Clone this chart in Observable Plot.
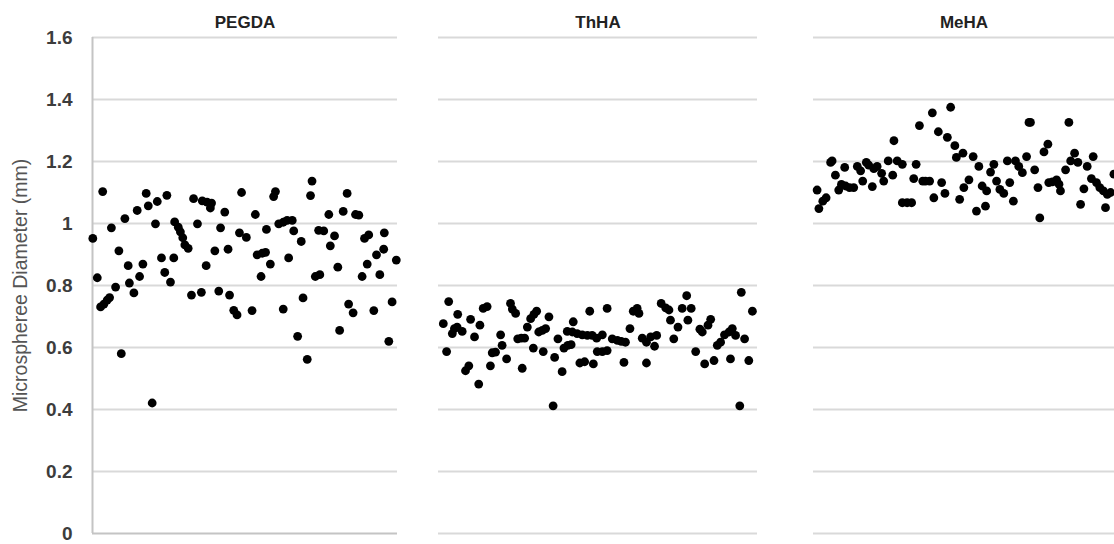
<!DOCTYPE html>
<html><head><meta charset="utf-8">
<script src="https://cdn.jsdelivr.net/npm/d3@7"></script>
<script src="https://cdn.jsdelivr.net/npm/@observablehq/plot@0.6"></script>
<style>
body{margin:0;background:#fff;font-family:"Liberation Sans",Arial,sans-serif;}
#wrap{position:relative;width:1114px;height:544px;overflow:hidden;background:#fff;}
#wrap svg{position:absolute;top:0;overflow:visible;}
</style></head><body><div id="wrap"></div>
<script>
const groups = ["PEGDA", "ThHA", "MeHA"];
const yTicks = [0, 0.2, 0.4, 0.6, 0.8, 1.0, 1.2, 1.4, 1.6];
const yLabel = "Microspheree Diameter (mm)";

const pegdaSample = [0.1,1.6,2.7,3.4,3.8,4.9,5.7,6.3,7.7,8.8,9.6,10.8,11.9,12.3,13.8,14.9,15.7,16.8,17.9,18.6,19.9,21,21.6,23,24.1,24.8,26,27.1,27.4,28.6,29.3,30.1,30.8,31.9,33,33.7,35,36.3,36.6,37.9,38.2,39.3,39.7,40.8,42.1,42.7,44.1,45.2,45.7,47.1,48.2,49,49.7,51.3,53.2,54.3,54.9,56.2,56.6,57.7,58,59.3,60.4,61,62.1,63.6,63.6,64.9,65.4,66.6,67.1,68.4,69.6,70.2,71.6,72.7,73.2,74.3,75.4,75.8,77.1,78.8,79.3,80.7,81.8,82.4,83.6,84.9,85.4,86.9,87.7,88.8,89.9,90.7,91.6,92.1,93.8,94.7,95.8,97.1,97.3,98.8,99.9,101.3];
const pegdaDiameter = [0.952,0.825,0.731,1.103,0.74,0.753,0.761,0.986,0.795,0.912,0.580,1.016,0.864,0.808,0.776,1.042,0.829,0.869,1.097,1.057,0.421,0.999,1.071,0.889,0.842,1.091,0.811,0.889,1.005,0.988,0.973,0.954,0.931,0.920,0.769,1.080,0.999,0.778,1.073,0.864,1.069,1.05,1.066,0.912,0.782,0.986,1.037,0.917,0.769,0.72,0.705,0.97,1.10,0.955,0.719,1.029,0.899,0.829,0.904,0.907,0.981,0.869,1.087,1.103,0.999,1.004,0.724,1.01,0.889,1.01,0.976,0.636,0.942,0.76,0.562,1.09,1.137,0.829,0.978,0.835,0.976,1.029,0.928,0.96,0.859,0.655,1.039,1.097,0.74,0.712,1.029,1.027,0.829,0.952,0.869,0.963,0.719,0.899,0.835,0.917,0.97,0.62,0.747,0.882];

const thhaSample = [1.6,2.7,3.4,4.6,5.3,6.2,6.4,7.9,9,10.1,10.7,12,13.4,13.8,14.9,16.2,17.3,17.9,19,20.7,21.2,22.7,24,24.6,25.7,26.4,27.6,27.9,28.7,29.6,30.7,31.6,31.8,32.7,33.4,34.6,34.9,35.7,36.8,38.2,38.7,39.8,41.2,41.8,42.9,43.1,44.2,44.6,44.9,46.2,47.1,47.9,48.7,49.6,50.4,51.2,51.6,52.7,52.9,54.6,54.6,56.2,56.2,57.9,59.6,60.9,61.8,62.3,63.8,64.9,66.2,66.8,67.9,69.3,69.3,70.7,72,72.7,74.2,75.7,76.8,77.3,78.4,79.8,81.2,82.7,83.1,84.2,85.7,87.1,87.9,88.7,89.8,90.7,91.8,92.9,94,95.3,96.8,97.3,97.9,99,100.4,100.9,102,103.4,104.6];
const thhaDiameter = [0.677,0.587,0.748,0.645,0.661,0.666,0.707,0.652,0.525,0.541,0.691,0.634,0.482,0.672,0.726,0.732,0.541,0.583,0.585,0.641,0.607,0.563,0.742,0.724,0.71,0.628,0.63,0.533,0.63,0.666,0.693,0.598,0.707,0.717,0.65,0.655,0.587,0.661,0.699,0.412,0.568,0.628,0.522,0.598,0.652,0.607,0.609,0.65,0.683,0.645,0.55,0.641,0.554,0.639,0.717,0.639,0.547,0.63,0.587,0.641,0.587,0.59,0.726,0.628,0.623,0.62,0.552,0.617,0.661,0.717,0.726,0.71,0.63,0.617,0.55,0.634,0.604,0.639,0.742,0.728,0.721,0.688,0.628,0.666,0.726,0.767,0.688,0.726,0.587,0.659,0.65,0.547,0.672,0.691,0.558,0.607,0.617,0.641,0.65,0.563,0.661,0.639,0.412,0.778,0.628,0.558,0.717];

const mehaSample = [1.2,1.8,3.1,4.2,5.7,6.2,7.3,8.4,9.3,10.4,10.7,12,13.4,14.6,15.7,16.4,17.6,18.4,19.6,20.1,21.2,22.7,23.4,24.9,26.4,26.8,27.9,29.6,29.6,31.2,32.7,33.4,34.2,35.3,36.4,37.3,38.7,39.6,40.1,41.6,42.7,43.8,44.6,45.7,47.1,47.6,48.7,49.8,50.1,51.8,53.2,54.3,55.1,56.2,57.3,57.7,59,60.1,61,62.1,63.4,64.6,65.4,66.6,67.3,68.4,69.6,71,71.8,72.3,73.7,74.8,75.4,76.8,78.1,78.4,79.6,81,81.8,82.3,84,85.1,85.7,87,88.1,89,90.1,91.2,92.6,93.2,94.3,95.4,96.6,97.3,97.9,99,100.1];
const mehaDiameter = [1.108,1.048,1.072,1.083,1.197,1.202,1.156,1.108,1.126,1.181,1.121,1.116,1.116,1.184,1.17,1.137,1.197,1.188,1.119,1.177,1.184,1.162,1.137,1.202,1.156,1.267,1.202,1.191,1.067,1.067,1.067,1.145,1.191,1.316,1.137,1.137,1.137,1.357,1.083,1.296,1.132,1.097,1.278,1.375,1.251,1.213,1.078,1.227,1.116,1.141,1.216,1.04,1.184,1.121,1.056,1.105,1.166,1.191,1.137,1.11,1.097,1.202,1.132,1.072,1.202,1.184,1.164,1.216,1.326,1.326,1.173,1.116,1.018,1.231,1.256,1.132,1.134,1.141,1.127,1.105,1.173,1.326,1.202,1.227,1.197,1.062,1.112,1.184,1.145,1.216,1.132,1.116,1.105,1.051,1.094,1.1,1.159];

const samples = [pegdaSample, thhaSample, mehaSample];
const diameters = [pegdaDiameter, thhaDiameter, mehaDiameter];

// panel layout (pixels)
const panels = [
  {left: 0,   width: 400, marginLeft: 92, marginRight: 3, xMax: 101.7, axis: true},
  {left: 438, width: 319, marginLeft: 0,  marginRight: 0, xMax: 106.3, axis: false},
  {left: 813, width: 301, marginLeft: 0,  marginRight: 0, xMax: 100.3, axis: false}
];

const fmt = d => String(+d.toFixed(1));
const wrap = document.getElementById("wrap");

groups.forEach((name, i) => {
  const p = panels[i];
  const data = samples[i].map((s, k) => ({sample: s, diameter: diameters[i][k]}));
  const marks = [
    Plot.ruleY(p.axis ? yTicks.filter(t => t > 0) : yTicks, {stroke: "#d9d9d9", strokeWidth: 1.8}),
  ];
  if (p.axis) {
    marks.push(Plot.ruleY([0], {stroke: "#c4c4c4", strokeWidth: 2}));
    marks.push(Plot.ruleX([0], {y1: 0, y2: 1.6, stroke: "#c4c4c4", strokeWidth: 2}));
    marks.push(Plot.axisY({ticks: yTicks, tickSize: 0, tickPadding: 20, tickFormat: fmt,
      fontSize: 19, fontWeight: "bold", fill: "#3c3c3c", label: null}));
    marks.push(Plot.text([yLabel], {frameAnchor: "left", textAnchor: "middle", dx: -72, rotate: -90,
      fontSize: 19.5, fill: "#555", text: d => d}));
  }
  marks.push(Plot.dot(data, {x: "sample", y: "diameter", r: 4.4, fill: "#000", stroke: "none"}));
  marks.push(Plot.text([name], {frameAnchor: "top", dy: -22, fontSize: 17, fontWeight: "bold",
    fill: "#222", text: d => d}));

  const svg = Plot.plot({
    width: p.width, height: 544,
    marginTop: 37, marginBottom: 11, marginLeft: p.marginLeft, marginRight: p.marginRight,
    x: {domain: [0, p.xMax], axis: null},
    y: {domain: [0, 1.6], axis: null},
    style: {fontFamily: "'Liberation Sans', Arial, sans-serif", background: "transparent", overflow: "visible"},
    marks
  });
  svg.style.left = p.left + "px";
  wrap.appendChild(svg);
});
</script></body></html>
